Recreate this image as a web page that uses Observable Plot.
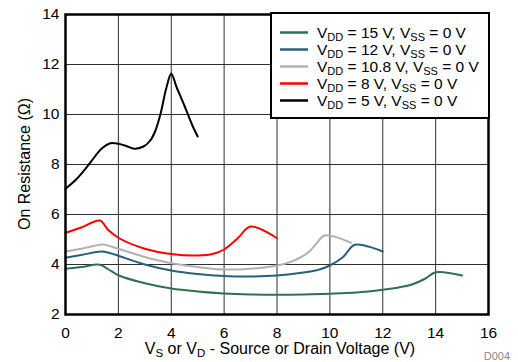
<!DOCTYPE html>
<html>
<head>
<meta charset="utf-8">
<script src="https://cdn.jsdelivr.net/npm/d3@7"></script>
<script src="https://cdn.jsdelivr.net/npm/@observablehq/plot@0.6"></script>
<style>
  body { margin: 0; background: white; }
  svg { display: block; }
</style>
</head>
<body>
<div id="chart"></div>
<script>
// Series
const seriesNames = ["15", "12", "10.8", "8", "5"];
const seriesColors = ["#2f7050", "#2b5f7e", "#b2b2b2", "#ff0000", "#000000"];

const x15 = [0, 0.6, 1.3, 1.6, 2.0, 3.0, 4.0, 5.0, 6.0, 7.0, 8.0, 9.0, 10.0, 11.0, 12.0, 12.6, 13.1, 13.6, 14.0, 15.0];
const y15 = [3.83, 3.9, 3.99, 3.82, 3.57, 3.25, 3.04, 2.92, 2.84, 2.80, 2.79, 2.80, 2.83, 2.88, 2.99, 3.08, 3.2, 3.43, 3.69, 3.56];

const x12 = [0, 0.6, 1.35, 1.7, 2.0, 3.0, 4.0, 5.0, 6.0, 7.0, 8.0, 9.0, 9.6, 10.0, 10.5, 10.95, 12.0];
const y12 = [4.27, 4.38, 4.52, 4.45, 4.35, 4.0, 3.76, 3.62, 3.54, 3.52, 3.56, 3.68, 3.8, 3.96, 4.3, 4.79, 4.52];

const x108 = [0, 0.6, 1.4, 1.7, 2.0, 3.0, 4.0, 5.0, 6.0, 7.0, 8.0, 8.5, 8.9, 9.2, 9.5, 9.8, 10.8];
const y108 = [4.52, 4.63, 4.8, 4.73, 4.63, 4.3, 4.05, 3.9, 3.8, 3.83, 3.96, 4.1, 4.29, 4.5, 4.85, 5.16, 4.87];

const x8 = [0, 0.6, 1.3, 1.6, 2.0, 3.0, 4.0, 5.0, 5.6, 6.0, 6.5, 7.0, 8.0];
const y8 = [5.27, 5.48, 5.76, 5.4, 5.07, 4.63, 4.42, 4.36, 4.43, 4.6, 5.03, 5.52, 5.05];

const x5 = [0, 0.4, 0.8, 1.1, 1.35, 1.7, 2.0, 2.3, 2.6, 2.95, 3.2, 3.4, 3.6, 3.8, 4.0, 4.2, 4.5, 4.8, 5.0];
const y5 = [7.03, 7.4, 7.89, 8.3, 8.62, 8.85, 8.83, 8.74, 8.63, 8.72, 8.95, 9.35, 10.05, 11.0, 11.63, 11.1, 10.35, 9.56, 9.12];

const xTicks = [0, 2, 4, 6, 8, 10, 12, 14, 16];
const yTicks = [2, 4, 6, 8, 10, 12, 14];

const allX = [x15, x12, x108, x8, x5];
const allY = [y15, y12, y108, y8, y5];
const rows = [];
seriesNames.forEach((s, i) => {
  allX[i].forEach((xv, j) => rows.push({series: s, x: xv, y: allY[i][j]}));
});

const FONT = "'Liberation Sans', Arial, sans-serif";

const plot = Plot.plot({
  width: 518,
  height: 362,
  marginLeft: 65,
  marginRight: 30,
  marginTop: 14,
  marginBottom: 48,
  style: {fontFamily: FONT, fontSize: "15.5px", background: "white", color: "black", overflow: "visible"},
  x: {domain: [0, 16], ticks: xTicks, tickSize: 0, tickPadding: 12, label: null},
  y: {domain: [2, 14], ticks: yTicks, tickSize: 0, tickPadding: 6, label: null},
  color: {domain: seriesNames, range: seriesColors},
  marks: [
    Plot.gridX(xTicks, {stroke: "#1a1a1a", strokeOpacity: 0.9, strokeWidth: 1}),
    Plot.gridY(yTicks, {stroke: "#1a1a1a", strokeOpacity: 0.9, strokeWidth: 1}),
    Plot.line(rows, {x: "x", y: "y", z: "series", stroke: "series", strokeWidth: 2, curve: "catmull-rom"}),
    Plot.frame({stroke: "black", strokeWidth: 2.5})
  ]
});

document.getElementById("chart").appendChild(plot);

const svg = d3.select(plot);

// Legend
const lg = svg.append("g").attr("font-family", FONT).attr("font-size", 15.5).attr("text-anchor", "start");
lg.append("rect").attr("x", 271).attr("y", 13).attr("width", 218).attr("height", 105)
  .attr("fill", "white").attr("stroke", "black").attr("stroke-width", 2);
const vdd = ["15", "12", "10.8", "8", "5"];
vdd.forEach((v, i) => {
  const yy = 32.5 + i * 17;
  lg.append("line").attr("x1", 280).attr("x2", 308).attr("y1", yy).attr("y2", yy)
    .attr("stroke", seriesColors[i]).attr("stroke-width", 2.5);
  const t = lg.append("text").attr("x", 317).attr("y", yy + 5.5).attr("fill", "black").attr("text-anchor", "start");
  t.append("tspan").text("V");
  t.append("tspan").attr("font-size", 11).attr("dy", 2.5).text("DD");
  t.append("tspan").attr("dy", -2.5).text(` = ${v} V, V`);
  t.append("tspan").attr("font-size", 11).attr("dy", 2.5).text("SS");
  t.append("tspan").attr("dy", -2.5).text(" = 0 V");
});

// Axis labels
svg.append("text").attr("font-family", FONT).attr("font-size", 16)
  .attr("transform", "translate(30,164) rotate(-90)").attr("text-anchor", "middle").attr("fill", "black")
  .text("On Resistance (Ω)");

const xl = svg.append("text").attr("font-family", FONT).attr("font-size", 16)
  .attr("x", 280).attr("y", 354).attr("text-anchor", "middle").attr("fill", "black");
xl.append("tspan").text("V");
xl.append("tspan").attr("font-size", 11.5).attr("dy", 3).text("S");
xl.append("tspan").attr("dy", -3).text(" or V");
xl.append("tspan").attr("font-size", 11.5).attr("dy", 3).text("D");
xl.append("tspan").attr("dy", -3).text(" - Source or Drain Voltage (V)");

svg.append("text").attr("font-family", FONT).attr("font-size", 11)
  .attr("x", 510).attr("y", 360).attr("text-anchor", "end").attr("fill", "#888")
  .text("D004");
</script>
</body>
</html>
